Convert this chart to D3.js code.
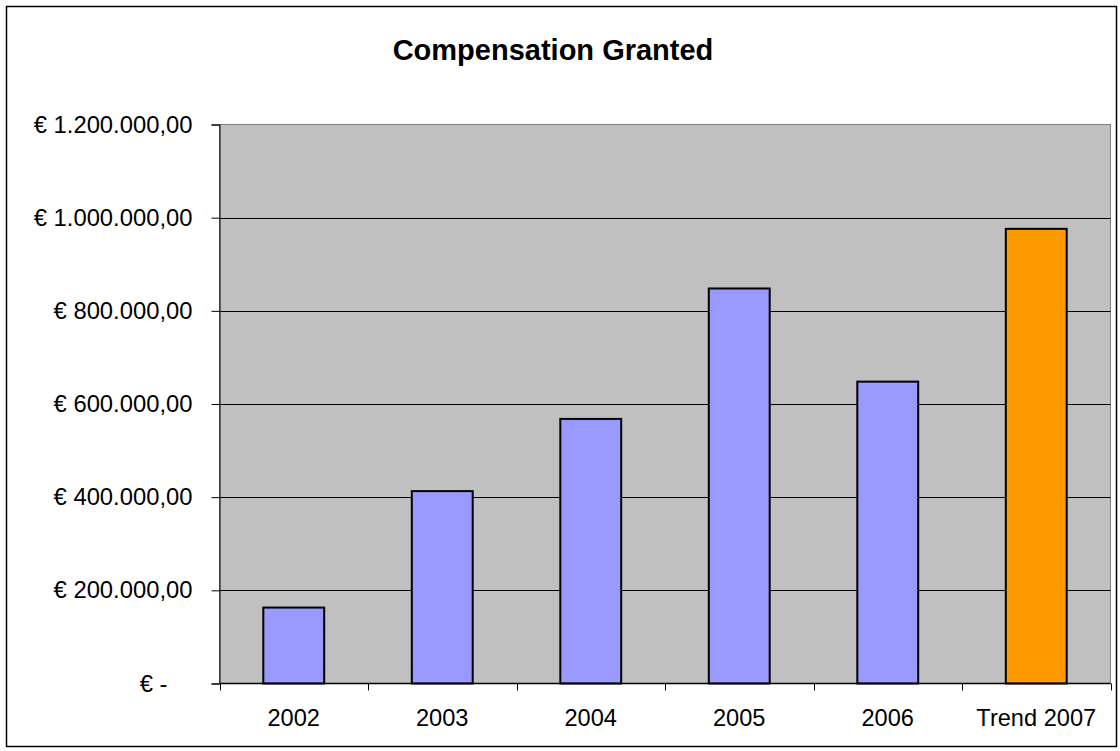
<!DOCTYPE html>
<html>
<head>
<meta charset="utf-8">
<script src="https://cdn.jsdelivr.net/npm/d3@7"></script>
<style>
  html, body { margin: 0; padding: 0; background: #fff; }
  svg { display: block; }
  text { font-family: "Liberation Sans", Arial, sans-serif; fill: #000; }
</style>
</head>
<body>
<script>
// Compensation granted per year, in euro
const categories = ["2002", "2003", "2004", "2005", "2006", "Trend 2007"];
const values = [163000, 413000, 568000, 848000, 648000, 976000];
const barColors = ["#9999FF", "#9999FF", "#9999FF", "#9999FF", "#9999FF", "#FF9900"];
const yTicks = [0, 200000, 400000, 600000, 800000, 1000000, 1200000];
const yTickLabels = ["€ -", "€ 200.000,00", "€ 400.000,00", "€ 600.000,00",
                     "€ 800.000,00", "€ 1.000.000,00", "€ 1.200.000,00"];
const chartTitle = "Compensation Granted";

const W = 1120, H = 751;
const plot = { left: 219.5, right: 1110.5, top: 124.5, bottom: 683.5 };

const svg = d3.select("body").append("svg")
  .attr("width", W).attr("height", H);

// outer chart frame
svg.append("rect")
  .attr("x", 6.5).attr("y", 6.5)
  .attr("width", 1110).attr("height", 740)
  .attr("fill", "#fff").attr("stroke", "#000").attr("stroke-width", 1.5);

svg.append("text")
  .attr("x", 553).attr("y", 60)
  .attr("text-anchor", "middle")
  .attr("font-size", 29).attr("font-weight", "bold")
  .text(chartTitle);

const y = d3.scaleLinear().domain([0, 1200000]).range([plot.bottom, plot.top]);
const x = d3.scaleBand().domain(categories)
  .range([plot.left, plot.right])
  .paddingInner(0.59).paddingOuter(0.295);

// plot area background
svg.append("rect")
  .attr("x", plot.left).attr("y", plot.top)
  .attr("width", plot.right - plot.left).attr("height", plot.bottom - plot.top)
  .attr("fill", "#C0C0C0").attr("stroke", "#808080").attr("stroke-width", 1);

// horizontal gridlines
svg.append("g").selectAll("line")
  .data(yTicks.filter(v => v > 0 && v < 1200000))
  .join("line")
  .attr("x1", plot.left).attr("x2", plot.right)
  .attr("y1", d => Math.round(y(d)) + 0.5).attr("y2", d => Math.round(y(d)) + 0.5)
  .attr("stroke", "#000").attr("stroke-width", 1);

// y axis
const yAxis = d3.axisLeft(y)
  .tickValues(yTicks)
  .tickSize(8)
  .tickPadding(19)
  .tickFormat((d, i) => yTickLabels[i]);

const gy = svg.append("g")
  .attr("transform", `translate(${plot.left},0)`)
  .call(yAxis);
gy.select(".domain").attr("stroke", "#000");
gy.selectAll(".tick line").attr("stroke", "#000");
gy.selectAll(".tick text")
  .attr("font-size", 23.8)
  .attr("font-family", "'Liberation Sans', Arial, sans-serif")
  .attr("fill", "#000")
  .attr("dx", d => d === 0 ? -25 : 0);

// bars
svg.append("g").selectAll("rect")
  .data(categories)
  .join("rect")
  .attr("x", d => x(d))
  .attr("width", x.bandwidth())
  .attr("y", (d, i) => y(values[i]))
  .attr("height", (d, i) => y(0) - y(values[i]))
  .attr("fill", (d, i) => barColors[i])
  .attr("stroke", "#000").attr("stroke-width", 2);

// x axis with ticks between categories
const step = x.step();
const boundaries = d3.range(categories.length + 1).map(i => plot.left + i * step);
const gx = svg.append("g");
gx.append("line")
  .attr("x1", plot.left).attr("x2", plot.right)
  .attr("y1", plot.bottom).attr("y2", plot.bottom)
  .attr("stroke", "#000").attr("stroke-width", 1.5);
gx.selectAll("line.tk")
  .data(boundaries)
  .join("line").attr("class", "tk")
  .attr("x1", d => Math.round(d) + 0.5).attr("x2", d => Math.round(d) + 0.5)
  .attr("y1", plot.bottom).attr("y2", plot.bottom + 7)
  .attr("stroke", "#000").attr("stroke-width", 1);
gx.selectAll("text")
  .data(categories)
  .join("text")
  .attr("x", d => x(d) + x.bandwidth() / 2)
  .attr("y", 726)
  .attr("text-anchor", "middle")
  .attr("font-size", 23.6)
  .text(d => d);
</script>
</body>
</html>
